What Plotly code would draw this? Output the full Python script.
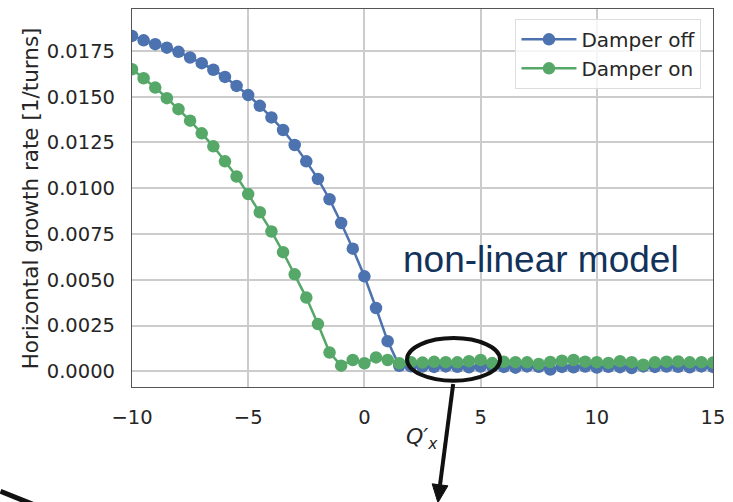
import plotly.graph_objects as go

# Chromaticity scan Q'x from -10 to 15 in steps of 0.5
q_prime_x = [-10 + 0.5 * i for i in range(51)]

growth_damper_off = [
    0.01832, 0.01808, 0.01787, 0.01768, 0.01745, 0.01714, 0.01683, 0.01647,
    0.01608, 0.01559, 0.01509, 0.01450, 0.01387, 0.01318, 0.01236, 0.01147,
    0.01051, 0.00940, 0.00810, 0.00670, 0.00519, 0.00346, 0.00165, 0.00030,
    0.00028, 0.00026, 0.00024, 0.00027, 0.00025, 0.00022, 0.00026, 0.00028,
    0.00024, 0.00020, 0.00027, 0.00025, 0.00010, 0.00024, 0.00022, 0.00026,
    0.00021, 0.00025, 0.00023, 0.00018, 0.00027, 0.00024, 0.00026, 0.00025,
    0.00022, 0.00027, 0.00024,
]

growth_damper_on = [
    0.01650, 0.01601, 0.01550, 0.01492, 0.01432, 0.01369, 0.01300, 0.01229,
    0.01147, 0.01064, 0.00968, 0.00869, 0.00764, 0.00651, 0.00530, 0.00403,
    0.00258, 0.00103, 0.00031, 0.00062, 0.00044, 0.00076, 0.00062, 0.00044,
    0.00050, 0.00048, 0.00052, 0.00050, 0.00049, 0.00055, 0.00062, 0.00045,
    0.00052, 0.00050, 0.00049, 0.00040, 0.00051, 0.00058, 0.00062, 0.00053,
    0.00050, 0.00046, 0.00055, 0.00050, 0.00036, 0.00049, 0.00053, 0.00054,
    0.00049, 0.00050, 0.00048,
]

x_ticks = [-10, -5, 0, 5, 10, 15]
y_ticks = [0.0, 0.0025, 0.005, 0.0075, 0.01, 0.0125, 0.015, 0.0175]
y_tick_labels = [f"{v:.4f}" for v in y_ticks]

series_names = ["Damper off", "Damper on"]
series_colors = ["#4c72b0", "#55a868"]

FONT = "DejaVu Sans"
INK = "#111111"

fig = go.Figure()
for name, values, color in zip(series_names, [growth_damper_off, growth_damper_on], series_colors):
    fig.add_trace(go.Scatter(
        x=q_prime_x, y=values, name=name, mode="lines+markers",
        line=dict(color=color, width=2.5),
        marker=dict(color=color, size=12.5),
    ))

axis_common = dict(
    showgrid=True, gridcolor="#cccccc", gridwidth=1.5,
    zeroline=False, showline=True, linecolor="#555555", linewidth=1.2,
    mirror=True, ticks="outside", ticklen=12, tickcolor="rgba(0,0,0,0)",
    tickfont=dict(family=FONT, size=19.5, color="#262626"),
)

fig.update_xaxes(range=[-10, 15], tickvals=x_ticks,
                 ticktext=[str(t).replace("-", "\u2212") for t in x_ticks], **axis_common)
fig.update_yaxes(range=[-0.000855, 0.01979], tickvals=y_ticks, ticktext=y_tick_labels, **axis_common)

# Arrow from the highlighted region pointing down (shaft + head)
arrow_shaft = dict(type="line", xref="paper", yref="paper",
                   x0=0.5528, y0=0.0079, x1=0.53019, y1=-0.25884,
                   line=dict(color=INK, width=4))
arrow_head = dict(type="path", xref="paper", yref="paper",
                  path="M 0.52659 -0.30600 L 0.54374 -0.26148 L 0.51664 -0.25620 Z",
                  fillcolor=INK, line=dict(color=INK, width=1))

fig.update_layout(
    width=733, height=502,
    margin=dict(l=132, r=18, t=8, b=115),
    paper_bgcolor="white", plot_bgcolor="white",
    font=dict(family=FONT, size=19, color="#262626"),
    showlegend=True,
    legend=dict(
        x=0.66, y=0.974, xanchor="left", yanchor="top",
        bgcolor="rgba(255,255,255,0.8)", bordercolor="#dddddd", borderwidth=1,
        font=dict(family=FONT, size=20, color="#262626"),
        itemwidth=55, tracegroupgap=0,
    ),
    annotations=[
        dict(text="Horizontal growth rate [1/turns]", xref="paper", yref="paper",
             x=-0.175, y=0.50, xanchor="center", yanchor="middle",
             textangle=-90, showarrow=False,
             font=dict(family=FONT, size=21.5, color="#262626")),
        dict(text="<i>Q\u2032<sub>x</sub></i>", xref="paper", yref="paper",
             x=0.499, y=-0.135, xanchor="center", yanchor="middle", showarrow=False,
             font=dict(family=FONT, size=22, color="#262626")),
        dict(text="non-linear model", xref="paper", yref="paper",
             x=0.704, y=0.338, xanchor="center", yanchor="middle", showarrow=False,
             font=dict(family="Liberation Sans", size=37, color="#12325a")),
    ],
    shapes=[
        dict(type="circle", xref="paper", yref="paper",
             x0=0.4734, x1=0.6335, y0=0.0166, y1=0.1293,
             line=dict(color=INK, width=4)),
        arrow_shaft,
        arrow_head,
        dict(type="line", xref="paper", yref="paper",
             x0=-0.2264, y0=-0.276, x1=-0.1715, y1=-0.31,
             line=dict(color=INK, width=5)),
    ],
)

fig.write_html("out.html")
